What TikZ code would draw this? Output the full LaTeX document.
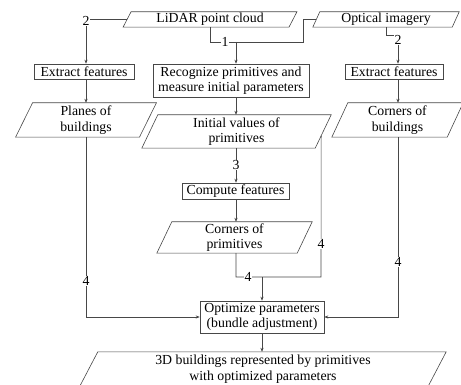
\documentclass[tikz,border=0pt]{standalone}
\usepackage{fontspec}
\setmainfont{Liberation Serif}
\usetikzlibrary{arrows.meta,calc}
\begin{document}
\begin{tikzpicture}[x=1pt,y=-1pt,
  every node/.style={font=\fontsize{13.8pt}{15.5pt}\selectfont, text=black},
  box/.style={draw=black!72, line width=0.6pt, inner sep=0pt, align=center},
  pbox/.style={inner sep=0pt, align=center},
  lab/.style={fill=white, inner sep=0.8pt},
  conn/.style={draw=black!72, line width=0.6pt},
  arr/.style={conn, -{Stealth[length=4pt,width=3.2pt]}},
]
\useasboundingbox (0,0) rectangle (461,385);

% parallelogram nodes (outline drawn below)
\node[pbox, minimum width=165.5pt, minimum height=15pt] (lidar) at (210,19.5) {LiDAR point cloud};
\node[pbox, minimum width=139pt, minimum height=15pt] (optical) at (386,19.5) {Optical imagery};
\node[pbox, minimum width=123.5pt, minimum height=34pt] (planes) at (86,120) {Planes of\\buildings};
\node[pbox, minimum width=173pt, minimum height=33pt] (init) at (236.5,131.5) {Initial values of\\primitives};
\node[pbox, minimum width=115pt, minimum height=34pt] (cob) at (397.5,120) {Corners of\\buildings};
\node[pbox, minimum width=140pt, minimum height=31pt] (cop) at (234.5,237.5) {Corners of\\primitives};
\node[pbox, minimum width=348pt, minimum height=34pt] (out) at (263,369) {3D buildings represented by primitives\\with optimized parameters};

\foreach \n/\s in {lidar/4, optical/3.5, planes/8.5, init/8, cob/8, cop/7.5, out/9} {
  \draw[conn] ([xshift=\s pt]\n.north west) -- ([xshift=\s pt]\n.north east)
    -- ([xshift=-\s pt]\n.south east) -- ([xshift=-\s pt]\n.south west) -- cycle;
}

% rectangular boxes
\node[box, minimum width=100pt, minimum height=15pt] (exl) at (84,71.5) {Extract features};
\node[box, minimum width=156pt, minimum height=33pt] (rec) at (231,80.5) {Recognize primitives and\\measure initial parameters};
\node[box, minimum width=98pt, minimum height=15pt] (exr) at (394,71.5) {Extract features};
\node[box, minimum width=107pt, minimum height=16pt] (comp) at (235.5,191) {Compute features};
\node[box, minimum width=124pt, minimum height=32pt] (opt) at (262,317) {Optimize parameters\\(bundle adjustment)};

% helper coordinates
\coordinate (k2) at (86,19.5);
\coordinate (k1) at (303,42);
\coordinate (m1) at (236,42);
\coordinate (k3) at (398,35);
\coordinate (cx) at (236,0);
\coordinate (k4) at (321,277);
\coordinate (m4) at (262,277);
\coordinate (isd) at ($([xshift=8pt]init.north east)!0.625!([xshift=-8pt]init.south east)$);

% connectors
\draw[arr] (lidar.west) -- (k2) -- (k2 |- exl.north);
\draw[arr] (exl.south -| k2) -- (planes.north -| k2);

\draw[conn] (lidar.south) |- (k1) |- (optical.west);
\draw[arr] (m1) -- (m1 |- rec.north);

\draw[arr] (optical.south) |- (k3) -- (k3 |- exr.north);
\draw[arr] (exr.south -| k3) -- (cob.north -| k3);

\draw[arr] (rec.south -| cx) -- (init.north -| cx);
\draw[arr] (init.south -| cx) -- (comp.north -| cx);
\draw[arr] (comp.south -| cx) -- (cop.north -| cx);

\draw[conn] (cop.south -| cx) |- (k4) -- (isd);
\draw[arr] (m4) -- (opt.north);

\draw[arr] (planes.south) |- (opt.west);
\draw[arr] (cob.south -| k3) |- (opt.east);
\draw[arr] (opt.south) -- (out.north -| opt.south);

% labels
\node[lab] (t2a) at (86,21) {2};
\node[lab] (t1) at (225,42) {1};
\node[lab] (t2b) at (398,39.5) {2};
\node[lab] (t3) at (236,165) {3};
\node[lab] (t4a) at (321,244) {4};
\node[lab] (t4b) at (248,277) {4};
\node[lab] (t4c) at (86,281) {4};
\node[lab] (t4d) at (398,262) {4};
\end{tikzpicture}
\end{document}
